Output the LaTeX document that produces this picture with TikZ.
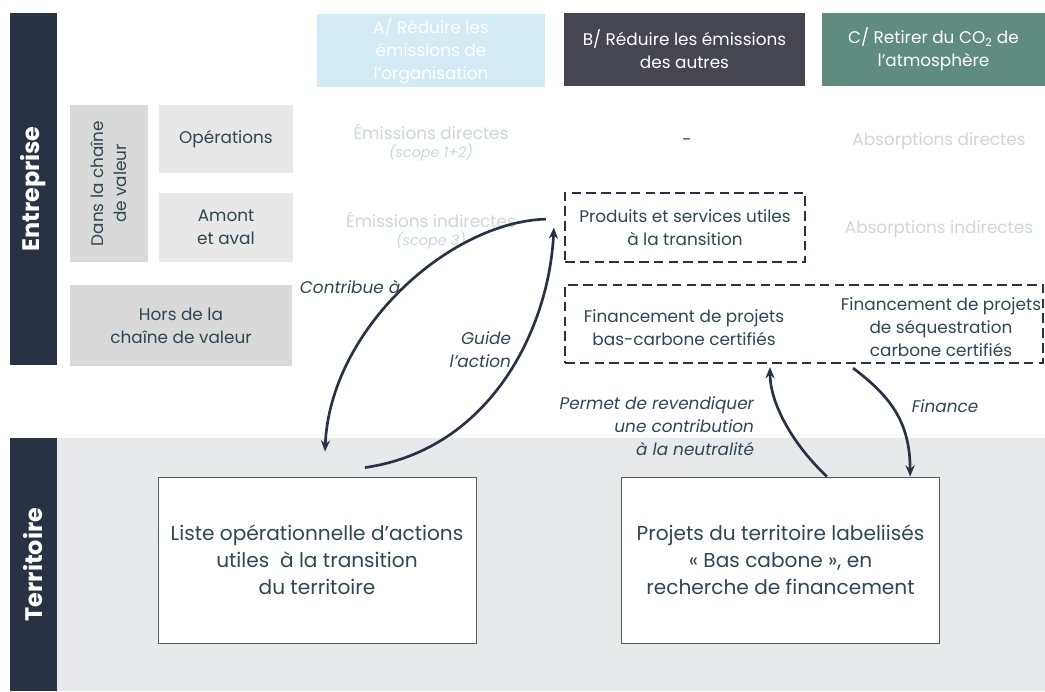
\documentclass[tikz,border=0pt]{standalone}
\usepackage{fontspec}
\setmainfont{Poppins}
\usetikzlibrary{arrows.meta}

\definecolor{navybar}{HTML}{283244}
\definecolor{txtdark}{HTML}{2E4750}
\definecolor{lightblue}{HTML}{D3EBF4}
\definecolor{greyB}{HTML}{45464F}
\definecolor{tealC}{HTML}{5F8C7F}
\definecolor{boxgrey}{HTML}{D9D9D9}
\definecolor{boxlight}{HTML}{E8E8E8}
\definecolor{terrbg}{HTML}{E8E9EA}
\definecolor{fadedtxt}{HTML}{CFD5D8}

\newcommand\fsmain{\fontsize{12}{16.4}\selectfont}
\newcommand\fsbig{\fontsize{14.3}{19.2}\selectfont}
\newcommand\fssmall{\fontsize{10.2}{13}\selectfont}
\newcommand\fsbar{\fontsize{17}{20}\selectfont\bfseries}

\begin{document}
\begin{tikzpicture}[
      x=0.025cm, y=-0.025cm,
      every node/.style={font=\fsmain, text=txtdark},
      bar/.style={fill=navybar, inner sep=0, rotate=90, minimum height=1.175cm, text=white, font=\fsbar},
      headbox/.style={inner sep=0, minimum height=1.825cm, text=white, align=center},
      greybox/.style={fill=boxgrey, inner sep=0, align=center},
      lightbox/.style={fill=boxlight, inner sep=0, minimum width=3.35cm, minimum height=1.7cm, align=center},
      faded/.style={text=fadedtxt, align=center},
      dashbox/.style={draw=navybar, line width=1.5pt, dash pattern=on 0.24cm off 0.13cm, inner sep=0},
      terrbox/.style={draw=navybar!80, line width=0.6pt, fill=white, inner sep=0, minimum width=7.95cm, minimum height=4.15cm, align=center, font=\fsbig},
      link/.style={draw=navybar, line width=1.9pt, -{Stealth[length=8pt,width=6.5pt]}},
      linklabel/.style={font=\fsmain\itshape, text=txtdark}
    ]
    \useasboundingbox (0,0) rectangle (1045,691);

    % Territoire background
    \fill[terrbg] (57,438) rectangle (1045,691);

    % Side bars
    \node[bar, minimum width=8.8cm] (entbar) at (33.5,189) {Entreprise};
    \node[bar, minimum width=6.325cm] (terbar) at (33.5,564.5) {Territoire};

    % Column headers
    \node[headbox, fill=lightblue, minimum width=5.7cm] (headA) at (431,50.5)
      {A/ Réduire les\\émissions de\\l’organisation};
    \node[headbox, fill=greyB, minimum width=6.025cm] (headB) at (684.5,49.5)
      {B/ Réduire les émissions\\des autres};
    \node[headbox, fill=tealC, minimum width=5.575cm] (headC) at (933.5,49.5)
      {C/ Retirer du CO\textsubscript{2} de\\l’atmosphère};

    % Row headers
    \node[greybox, rotate=90, minimum width=3.925cm, minimum height=1.925cm] (dans) at (109,183.5)
      {Dans la chaîne\\de valeur};
    \node[lightbox] (oper) at (226,139) {Opérations};
    \node[lightbox, minimum height=1.725cm] (amont) at (226,227.5) {Amont\\et aval};
    \node[greybox, minimum width=5.55cm, minimum height=2.025cm] (hors) at (181,325.5)
      {Hors de la\\chaîne de valeur};

    % Faded cells
    \node[faded] (emdir) at (431,132) {Émissions directes};
    \node[faded, font=\fssmall\itshape] (scdir) at (431,153) {(scope 1+2)};
    \node[faded] (emind) at (431,220) {Émissions indirectes};
    \node[faded, font=\fssmall\itshape] (scind) at (431,241) {(scope 3)};
    \node (tiret) at (687,142) {-};
    \node[faded] (absdir) at (939,141) {Absorptions directes};
    \node[faded] (absind) at (939,229) {Absorptions indirectes};

    % Dashed cells
    \node[dashbox, minimum width=6cm, minimum height=1.725cm, align=center] (prod) at (685,227.5)
      {Produits et services utiles\\à la transition};
    \node[dashbox, minimum width=11.95cm, minimum height=1.95cm] (fin) at (804,324) {};
    \node[align=center] (finbas) at (684,328) {Financement de projets\\bas-carbone certifiés};
    \node[align=center] (finseq) at (941,327) {Financement de projets\\de séquestration\\carbone certifiés};

    % Territoire boxes
    \node[terrbox] (liste) at (317,560)
      {Liste opérationnelle d’actions\\utiles~ à la transition\\du territoire};
    \node[terrbox] (projets) at (780.5,560)
      {Projets du territoire labeliisés\\«~Bas cabone~», en\\recherche de financement};

    % Connector ends
    \coordinate (contribS) at ([xshift=-0.45cm, yshift=0.21cm]prod.west);
    \coordinate (contribE) at ([xshift=0.2cm, yshift=0.625cm]liste.north);
    \coordinate (guideS) at ([xshift=1.2cm, yshift=0.225cm]liste.north);
    \coordinate (guideE) at ([xshift=-0.25cm]prod.west);
    \coordinate (permS) at ([xshift=1.16cm]projets.north);
    \coordinate (permE) at ([xshift=-0.85cm, yshift=-0.075cm]fin.south);
    \coordinate (financeS) at ([xshift=1.225cm, yshift=-0.1cm]fin.south);
    \coordinate (financeE) at ([xshift=3.24cm]projets.north);

    % Connectors
    \draw[link] (contribS) .. controls +(-97,3) and +(5,-122) .. (contribE);
    \draw[link] (guideS) .. controls +(125,-18) and +(-5,102) .. (guideE);
    \draw[link] (permS) .. controls +(-37,-35) and +(0,34) .. (permE);
    \draw[link] (financeS) .. controls +(37,28) and +(0,-55) .. (financeE);

    % Connector labels
    \node[linklabel, anchor=west] (lcontrib) at (295,287) {Contribue à};
    \node[linklabel, anchor=east, align=right] (lguide) at (516,349.5) {Guide\\l’action};
    \node[linklabel, anchor=east, align=right] (lperm) at (759,426)
      {Permet de revendiquer\\une contribution\\à la neutralité};
    \node[linklabel, anchor=west] (lfinance) at (907,406) {Finance};
  \end{tikzpicture}
\end{document}
